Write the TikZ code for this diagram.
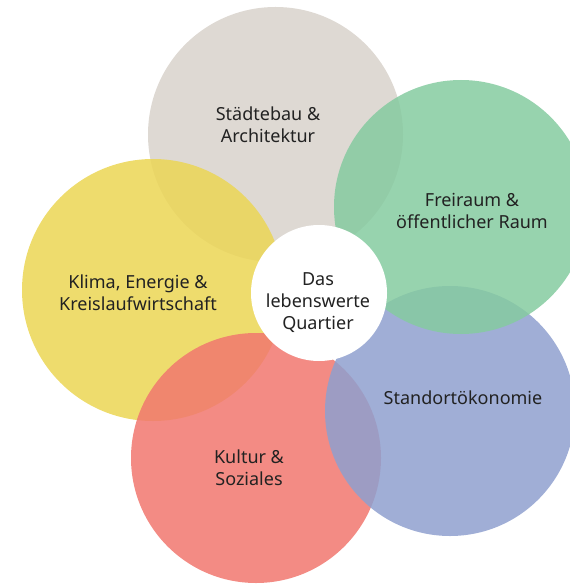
\documentclass[tikz,border=0pt]{standalone}
\usepackage{fontspec}
\setmainfont{Noto Sans}
\definecolor{cgray}{RGB}{216,210,203}
\definecolor{cyellow}{RGB}{235,214,84}
\definecolor{cred}{RGB}{241,119,110}
\definecolor{cblue}{RGB}{143,160,207}
\definecolor{cgreen}{RGB}{133,203,160}
\definecolor{ctext}{RGB}{34,34,34}
\begin{document}
\begin{tikzpicture}[x=1pt,y=-1pt,
  bubble/.style={circle, inner sep=0pt, fill opacity=0.85, draw=none},
  lbl/.style={align=center, text=ctext, font=\fontsize{18}{22}\selectfont, inner sep=0pt}]
\useasboundingbox (0,0) rectangle (569,585);
\node[bubble, fill=cgray, minimum size=255pt] (gray) at (275.5,134.5) {};
\node[bubble, fill=cyellow, minimum size=262pt] (yellow) at (153,290) {};
\node[bubble, fill=cred, minimum size=250pt] (red) at (256,458) {};
\node[bubble, fill=cblue, minimum size=250pt] (blue) at (450,411) {};
\node[bubble, fill=cgreen, minimum size=254pt] (green) at (461,207) {};
\node[circle, inner sep=0pt, fill=white, minimum size=136pt] (center) at (319,293) {};
\node[lbl] (tgray) at (268,125) {Städtebau \&\\Architektur};
\node[lbl] (tgreen) at (472,211) {Freiraum \&\\öffentlicher Raum};
\node[lbl] (tyellow) at (138,293) {Klima, Energie \&\\Kreislaufwirtschaft};
\node[lbl] (tcenter) at (318,303) {Das\\lebenswerte\\Quartier};
\node[lbl] (tblue) at (463,398) {Standortökonomie};
\node[lbl] (tred) at (249,468) {Kultur \&\\Soziales};
\end{tikzpicture}
\end{document}
